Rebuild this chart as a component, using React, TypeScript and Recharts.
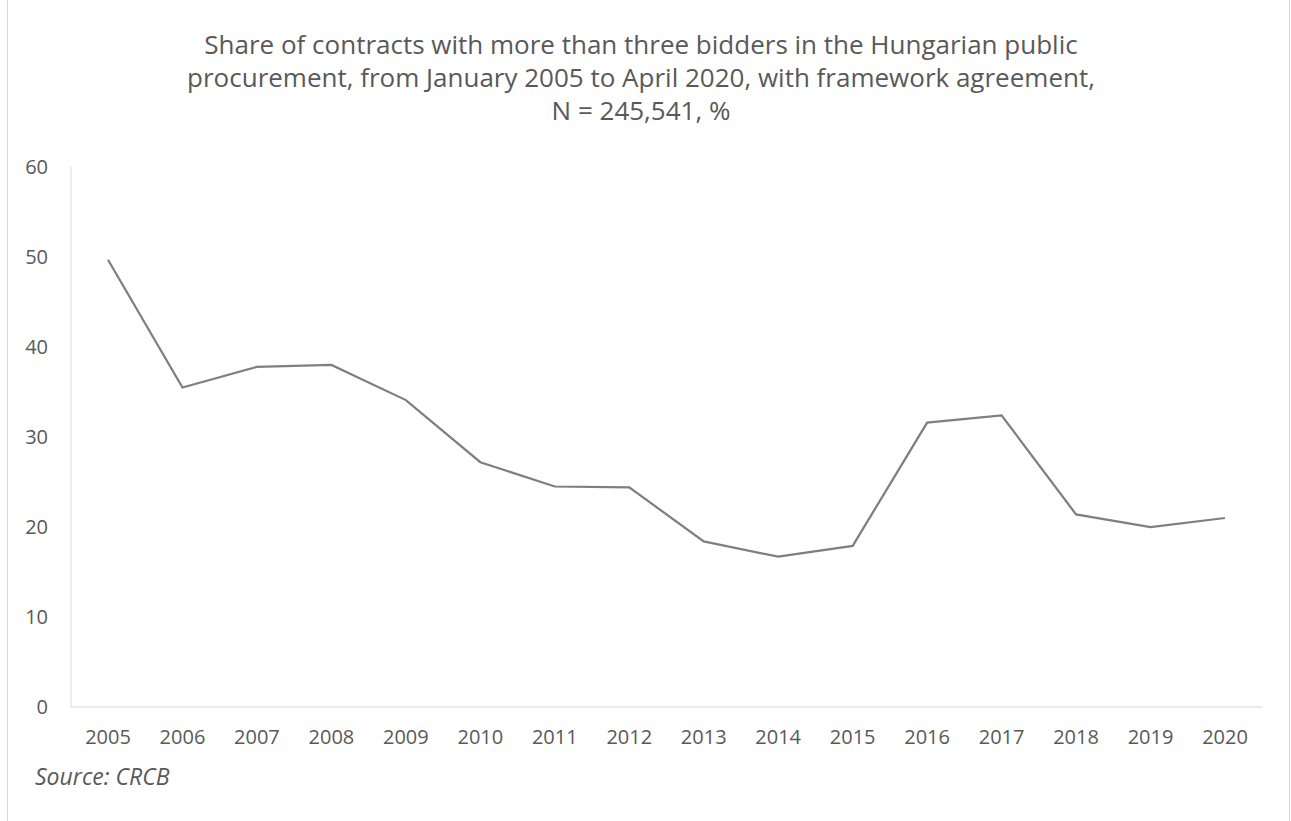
import { LineChart, Line, XAxis, YAxis } from 'recharts';

const years = ['2005', '2006', '2007', '2008', '2009', '2010', '2011', '2012', '2013', '2014', '2015', '2016', '2017', '2018', '2019', '2020'];
const shares = [49.7, 35.5, 37.8, 38.0, 34.1, 27.2, 24.5, 24.4, 18.4, 16.7, 17.9, 31.6, 32.4, 21.4, 20.0, 21.0];
const yTicks = [0, 10, 20, 30, 40, 50, 60];

const titleLines = [
  'Share of contracts with more than three bidders in the Hungarian public',
  'procurement, from January 2005 to April 2020, with framework agreement,',
  'N = 245,541, %',
];

const data = years.map((year, i) => ({ year, share: shares[i] }));

const textColor = '#595959';
const axisColor = '#d9d9d9';
const font = '"Open Sans", sans-serif';

export default function App() {
  return (
    <div style={{ position: 'absolute', left: 0, top: 0, width: 1291, height: 821, background: '#fff', overflow: 'hidden', fontFamily: font }}>
      <div style={{ position: 'absolute', left: 7, top: -2, width: 1281, height: 830, borderLeft: `1px solid ${axisColor}`, borderRight: `1px solid ${axisColor}` }} />
      <div style={{ position: 'absolute', left: 0, top: 28, width: 1282, textAlign: 'center', color: textColor, fontSize: 26, lineHeight: '33px' }}>
        {titleLines.map((line) => (
          <div key={line}>{line}</div>
        ))}
      </div>
      <div style={{ position: 'absolute', left: 0, top: 0 }}>
        <LineChart width={1291} height={821} data={data} margin={{ top: 167, right: 29, bottom: 74, left: 0 }}>
          <XAxis
            dataKey="year"
            height={40}
            padding={{ left: 37, right: 37 }}
            tickLine={false}
            tickSize={0}
            tickMargin={23}
            axisLine={{ stroke: axisColor, strokeWidth: 1 }}
            tick={{ fill: textColor, fontSize: 20, fontFamily: font }}
            interval={0}
          />
          <YAxis
            width={71}
            domain={[0, 60]}
            ticks={yTicks}
            tickLine={false}
            tickSize={0}
            tickMargin={23}
            axisLine={{ stroke: axisColor, strokeWidth: 1 }}
            tick={{ fill: textColor, fontSize: 20, fontFamily: font }}
          />
          <Line
            type="linear"
            dataKey="share"
            stroke="#7f7f7f"
            strokeWidth={2.25}
            dot={false}
            activeDot={false}
            isAnimationActive={false}
          />
        </LineChart>
      </div>
      <div style={{ position: 'absolute', left: 35, top: 760, color: textColor, fontSize: 23, fontStyle: 'italic' }}>
        Source: CRCB
      </div>
    </div>
  );
}
